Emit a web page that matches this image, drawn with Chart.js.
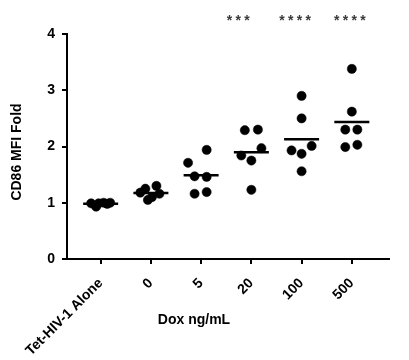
<!DOCTYPE html>
<html>
<head>
<meta charset="utf-8">
<script src="https://cdn.jsdelivr.net/npm/chart.js@4/dist/chart.umd.min.js"></script>
<style>
  body { margin: 0; background: #fff; }
</style>
</head>
<body>
<canvas id="myChart" width="409" height="360"></canvas>
<script>
// categorias del eje x y valores de cada grupo
const categories = ['Tet-HIV-1 Alone', '0', '5', '20', '100', '500'];
const yTicks = [0, 1, 2, 3, 4];

const alone = [0.99, 0.93, 0.99, 1.00, 0.98, 1.00];
const dox0 = [1.18, 1.25, 1.05, 1.30, 1.16, 1.10];
const dox5 = [1.94, 1.71, 1.47, 1.46, 1.16, 1.19];
const dox20 = [2.29, 2.30, 1.97, 1.84, 1.75, 1.23];
const dox100 = [2.90, 2.50, 2.01, 1.93, 1.87, 1.56];
const dox500 = [3.38, 2.62, 2.30, 2.30, 1.99, 2.03];

// significancia sobre cada grupo
const stars = ['', '', '', '***', '****', '****'];

// desplazamiento horizontal de los puntos dentro de su grupo (unidades de categoria)
const jitter = [
    [-0.19, -0.09, -0.04, 0.06, 0.13, 0.19],
    [-0.21, -0.11, -0.06, 0.11, 0.17, 0.02],
    [0.11, -0.26, -0.13, 0.11, -0.13, 0.11],
    [-0.13, 0.13, 0.2, -0.2, 0, 0],
    [0, 0, 0.2, -0.2, 0, 0],
    [0, 0, -0.13, 0.11, -0.13, 0.11]
];
const starShift = [0, 0, 0, -0.26, -0.13, -0.04];

const groups = [alone, dox0, dox5, dox20, dox100, dox500];

const points = [];
const means = [];
groups.forEach((vals, i) => {
    vals.forEach((v, j) => points.push({x: i + jitter[i][j], y: v}));
    const m = vals.reduce((a, b) => a + b, 0) / vals.length;
    means.push({x: i, y: m});
});

const FONT = 'Arial, "Liberation Sans", sans-serif';
Chart.defaults.font.family = FONT;

// titulos y asteriscos
const extras = {
    id: 'extras',
    afterDraw(chart) {
        const ctx = chart.ctx;
        const xs = chart.scales.x;
        ctx.save();
        ctx.fillStyle = '#000';
        ctx.font = 'bold 14px ' + FONT;
        ctx.textAlign = 'center';
        ctx.textBaseline = 'middle';
        ctx.fillText('Dox ng/mL', 194, 320);
        ctx.translate(17, 152);
        ctx.rotate(-Math.PI / 2);
        ctx.fillText('CD86 MFI Fold', 0, 0);
        ctx.restore();

        ctx.save();
        ctx.fillStyle = '#3a3a3a';
        ctx.font = 'bold 14px ' + FONT;
        ctx.textAlign = 'center';
        ctx.textBaseline = 'alphabetic';
        stars.forEach((s, i) => {
            if (!s) return;
            const cx = xs.getPixelForValue(i + starShift[i]);
            for (let k = 0; k < s.length; k++) {
                ctx.fillText('*', cx + (k - (s.length - 1) / 2) * 8.7, 25);
            }
        });
        ctx.restore();
    }
};

const ctx = document.getElementById('myChart');
new Chart(ctx, {
    type: 'scatter',
    data: {
        datasets: [{
            data: points,
            backgroundColor: '#000',
            borderColor: '#000',
            borderWidth: 0.5,
            pointRadius: 4.6,
            pointHoverRadius: 4.6
        }, {
            data: means,
            pointStyle: 'line',
            borderColor: '#000',
            borderWidth: 2.5,
            pointRadius: 17.5,
            pointHoverRadius: 17.5
        }]
    },
    options: {
        responsive: false,
        animation: false,
        events: [],
        layout: {padding: {top: 34, right: 1, left: 0, bottom: 0}},
        plugins: {legend: {display: false}, tooltip: {enabled: false}},
        scales: {
            x: {
                type: 'linear',
                min: -0.67,
                max: 5.74,
                afterBuildTicks: s => { s.ticks = categories.map((c, i) => ({value: i})); },
                afterFit: s => { s.height = 101; },
                ticks: {
                    autoSkip: false,
                    minRotation: 45,
                    maxRotation: 45,
                    padding: 11,
                    color: '#000',
                    font: {size: 14, weight: 'bold'},
                    callback: (v, i) => categories[i]
                },
                grid: {drawOnChartArea: false, drawTicks: true, tickLength: 5, color: '#000', lineWidth: 2},
                border: {color: '#000', width: 2}
            },
            y: {
                min: 0,
                max: 4,
                afterBuildTicks: s => { s.ticks = yTicks.map(v => ({value: v})); },
                afterFit: s => { s.width = 67; },
                ticks: {
                    padding: 7,
                    color: '#000',
                    font: {size: 14, weight: 'bold'}
                },
                grid: {drawOnChartArea: false, drawTicks: true, tickLength: 5, color: '#000', lineWidth: 2},
                border: {color: '#000', width: 2}
            }
        }
    },
    plugins: [extras]
});
</script>
</body>
</html>
